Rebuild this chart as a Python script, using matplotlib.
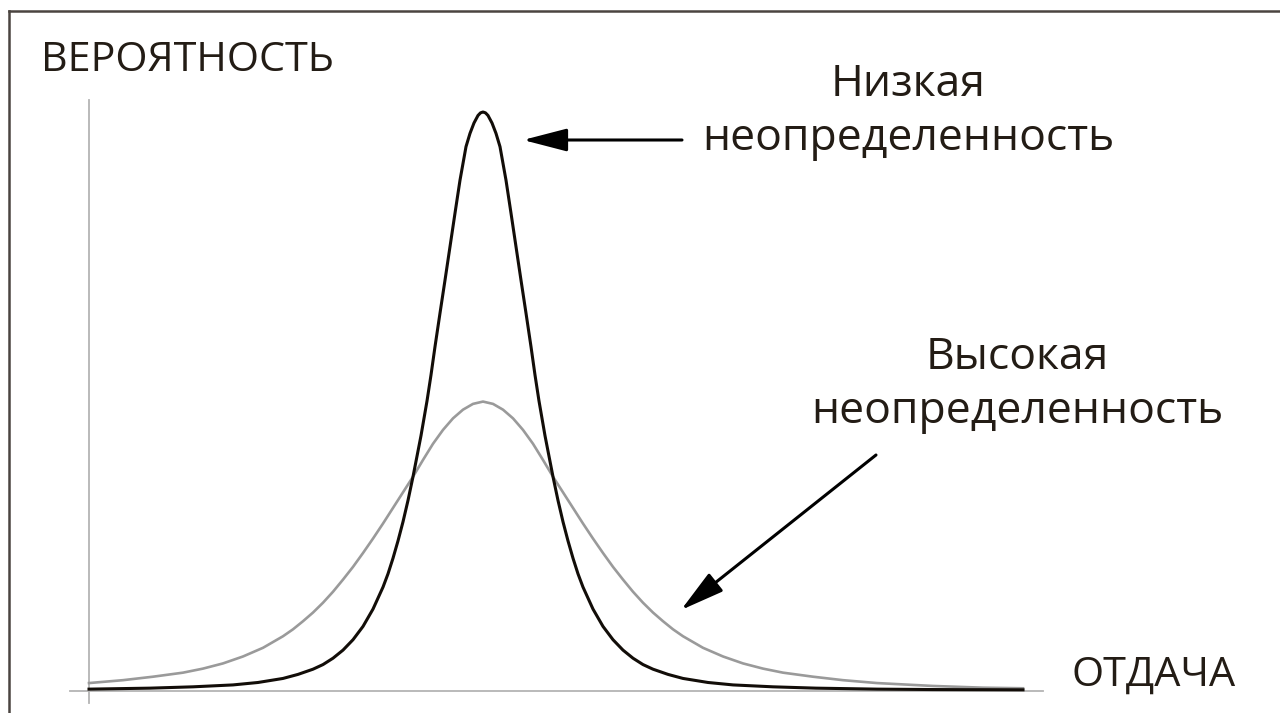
import matplotlib
matplotlib.use("Agg")
import matplotlib.pyplot as plt
import numpy as np
from matplotlib.lines import Line2D

plt.rcParams['font.family'] = ['Open Sans', 'DejaVu Sans']

# ---- data ----
center = 39.4            # position of the peak on the return axis
# half-profile offsets from the peak (return units) and heights (probability)
low_offsets = [0, 0.25, 0.5, 0.9, 1.3, 1.7, 2.3, 2.8, 3.3, 3.8, 4.3, 4.8, 5.2, 5.6,
               6.2, 7.0, 7.5, 8.0, 8.5, 9.0, 9.5, 10.0, 11.0, 12.0, 13.0, 14.0,
               15.0, 16.0, 17.0, 18.5, 20.0, 22.5, 25.0, 29.0, 33.3, 39.4, 45.0, 54.0]
low_heights = [1.000, 0.9985, 0.994, 0.981, 0.963, 0.940, 0.882, 0.825, 0.767, 0.709,
               0.652, 0.594, 0.545, 0.500, 0.440, 0.369, 0.328, 0.291, 0.258, 0.228,
               0.201, 0.178, 0.140, 0.110, 0.087, 0.069, 0.055, 0.044, 0.036, 0.027,
               0.020, 0.013, 0.0088, 0.0055, 0.0032, 0.0015, 0.0008, 0.0003]
high_offsets = [0, 1, 2, 3, 4, 5, 6, 7, 8, 9, 10, 11, 12, 13, 14, 15, 16, 17, 18, 19,
                20, 22, 24, 26, 28, 30, 33, 36, 39.4, 45, 50, 54]
high_heights = [0.499, 0.495, 0.485, 0.470, 0.450, 0.426, 0.398, 0.369, 0.342, 0.315,
                0.288, 0.262, 0.237, 0.213, 0.191, 0.170, 0.151, 0.134, 0.119, 0.105,
                0.093, 0.073, 0.058, 0.046, 0.037, 0.030, 0.023, 0.017, 0.012, 0.007,
                0.004, 0.003]
left_limit = 0.0         # curves start at the vertical axis

x_label = "ОТДАЧА"
y_label = "ВЕРОЯТНОСТЬ"
low_label = ["Низкая", "неопределенность"]
high_label = ["Высокая", "неопределенность"]


def full_curve(offsets, heights):
    offs = np.array(offsets, dtype=float)
    h = np.array(heights, dtype=float)
    left_mask = center - offs >= left_limit
    xl = (center - offs[left_mask])[::-1]
    yl = h[left_mask][::-1]
    xr = center + offs[1:]
    yr = h[1:]
    return np.concatenate([xl, xr]), np.concatenate([yl, yr])


W, H = 1280, 713
fig = plt.figure(figsize=(W / 100, H / 100), dpi=100)
ax = fig.add_axes([0, 0, 1, 1])
# map: 1 return unit = 10 px, y-axis at px 89; probability 1 = 578 px, baseline py 690
ax.set_xlim(-8.9, 119.1)
ax.set_ylim((690 - 713) / 578, 690 / 578)

for s in ['top', 'right']:
    ax.spines[s].set_visible(False)
ax.spines['left'].set_position(('data', 0))
ax.spines['bottom'].set_position(('data', -0.0015))
ax.spines['left'].set_bounds(-0.0225, 1.021)
ax.spines['bottom'].set_bounds(-1.9, 95.4)
for s in ['left', 'bottom']:
    ax.spines[s].set_color('#b4b4b4')
    ax.spines[s].set_linewidth(1.3)
ax.set_xticks([])
ax.set_yticks([])
ax.patch.set_alpha(0)

xh, yh = full_curve(high_offsets, high_heights)
xl, yl = full_curve(low_offsets, low_heights)
ax.plot(xh, yh, color='#9a9a9a', lw=1.9, solid_joinstyle='round', zorder=3)
ax.plot(xl, yl, color='#120d08', lw=2.2, solid_joinstyle='round', zorder=4)

# border (top and left)
fig.add_artist(Line2D([9 / W, 1], [1 - 11 / H, 1 - 11 / H], color='#4a4440', lw=1.8))
fig.add_artist(Line2D([9 / W, 9 / W], [0, 1 - 11 / H], color='#4a4440', lw=1.8))

tc = '#231c15'
fs = 29.8
fs_note = 32
fig.text(41 / W, 1 - 71 / H, y_label, fontsize=fs, color=tc, ha='left', va='baseline')
fig.text(1071 / W, 1 - 686 / H, x_label, fontsize=fs, color=tc, ha='left', va='baseline')
for line, base in zip(low_label, [96, 150]):
    fig.text(908 / W, 1 - base / H, line, fontsize=fs_note, color=tc, ha='center', va='baseline')
for line, base in zip(high_label, [369, 423]):
    fig.text(1017 / W, 1 - base / H, line, fontsize=fs_note, color=tc, ha='center', va='baseline')

arrowprops = dict(arrowstyle='-|>,head_length=2.7,head_width=0.7', color='black',
                  lw=2.2, shrinkA=0, shrinkB=0)
ax.annotate('', xy=(523, H - 140), xycoords='figure pixels',
            xytext=(682, H - 140), textcoords='figure pixels', arrowprops=arrowprops)
ax.annotate('', xy=(681, H - 610), xycoords='figure pixels',
            xytext=(876, H - 455), textcoords='figure pixels', arrowprops=arrowprops)

fig.savefig('out.png', dpi=100)
